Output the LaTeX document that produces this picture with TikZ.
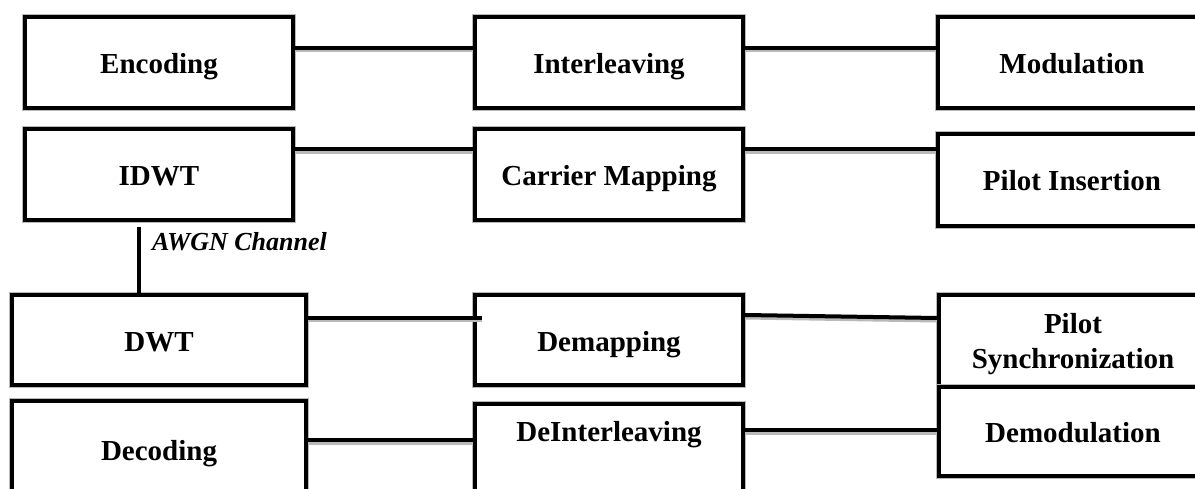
\documentclass[tikz,border=0pt]{standalone}
\usepackage{fontspec}
\setmainfont{Liberation Serif}
\begin{document}
\begin{tikzpicture}[x=1pt,y=-1pt,
  blk/.style={draw=black, line width=4pt, fill=white, inner sep=0pt,
    minimum width=268pt, minimum height=91pt, align=center,
    text height=22pt, text depth=0pt,
    font=\fontsize{29}{35}\selectfont\bfseries,
    preaction={draw=gray!55, line width=5.5pt}},
  wire/.style={line width=4pt, draw=black,
    preaction={draw=gray!55, line width=4pt, transform canvas={yshift=-2.5pt}}},
  vwire/.style={line width=4pt, draw=black}]
\useasboundingbox (0,0) rectangle (1195,489);
\clip (0,0) rectangle (1195,489);
\coordinate (e1) at (295,48);   \coordinate (i1) at (473,48);
\coordinate (i2) at (745,48);   \coordinate (m1) at (936,48);
\coordinate (d1) at (295,149.5); \coordinate (c1) at (473,149.5);
\coordinate (c2) at (745,149.5); \coordinate (p1) at (936,149.5);
\coordinate (w1) at (308,318);  \coordinate (dm1) at (482,318);
\coordinate (dm2) at (745,315); \coordinate (ps1) at (937,318);
\coordinate (dc1) at (308,440); \coordinate (di1) at (473,440);
\coordinate (di2) at (745,430); \coordinate (dd1) at (937,430);
\coordinate (a1) at (139,227);  \coordinate (a2) at (139,295);
% boxes
\node[blk] (enc) at (159,62.5) {Encoding};
\node[blk] (idwt) at (159,174.5) {IDWT};
\node[blk] (inter) at (609,62.5) {Interleaving};
\node[blk] (carrier) at (609,174.5) {Carrier Mapping};
\node[blk] (mod) at (1072,62.5) {Modulation};
\node[blk, minimum height=92pt] (pins) at (1072,180) {Pilot Insertion};
\node[blk, minimum width=294pt, minimum height=90pt] (dwt) at (159,340) {DWT};
\node[blk, minimum width=294pt, minimum height=96pt] (dec) at (159,449) {Decoding};
\node[blk, minimum height=90pt] (demap) at (609,340) {Demapping};
\node[blk, minimum height=110pt, text height=0pt, text depth=36pt] (deint) at (609,459) {DeInterleaving};
\node[blk, minimum height=92pt, text height=54pt, text depth=0pt] (psync) at (1073,341) {Pilot\\Synchronization};
\node[blk, minimum height=89pt] (demod) at (1073,431.5) {Demodulation};
% wires
\draw[wire] (enc.east |- e1) -- (inter.west |- i1);
\draw[wire] (inter.east |- i2) -- (mod.west |- m1);
\draw[wire] (idwt.east |- d1) -- (carrier.west |- c1);
\draw[wire] (carrier.east |- c2) -- (pins.west |- p1);
\draw[wire] (dwt.east |- w1) -- (dm1);
\draw[wire] (demap.east |- dm2) -- (psync.west |- ps1);
\draw[wire] (dec.east |- dc1) -- (deint.west |- di1);
\draw[wire] (deint.east |- di2) -- (demod.west |- dd1);
\draw[vwire] (a1) -- (dwt.north -| a2);
\node[inner sep=0pt, anchor=base west, font=\fontsize{26}{30}\selectfont\bfseries\itshape] (awgn) at (152,251) {AWGN Channel};
\end{tikzpicture}
\end{document}
